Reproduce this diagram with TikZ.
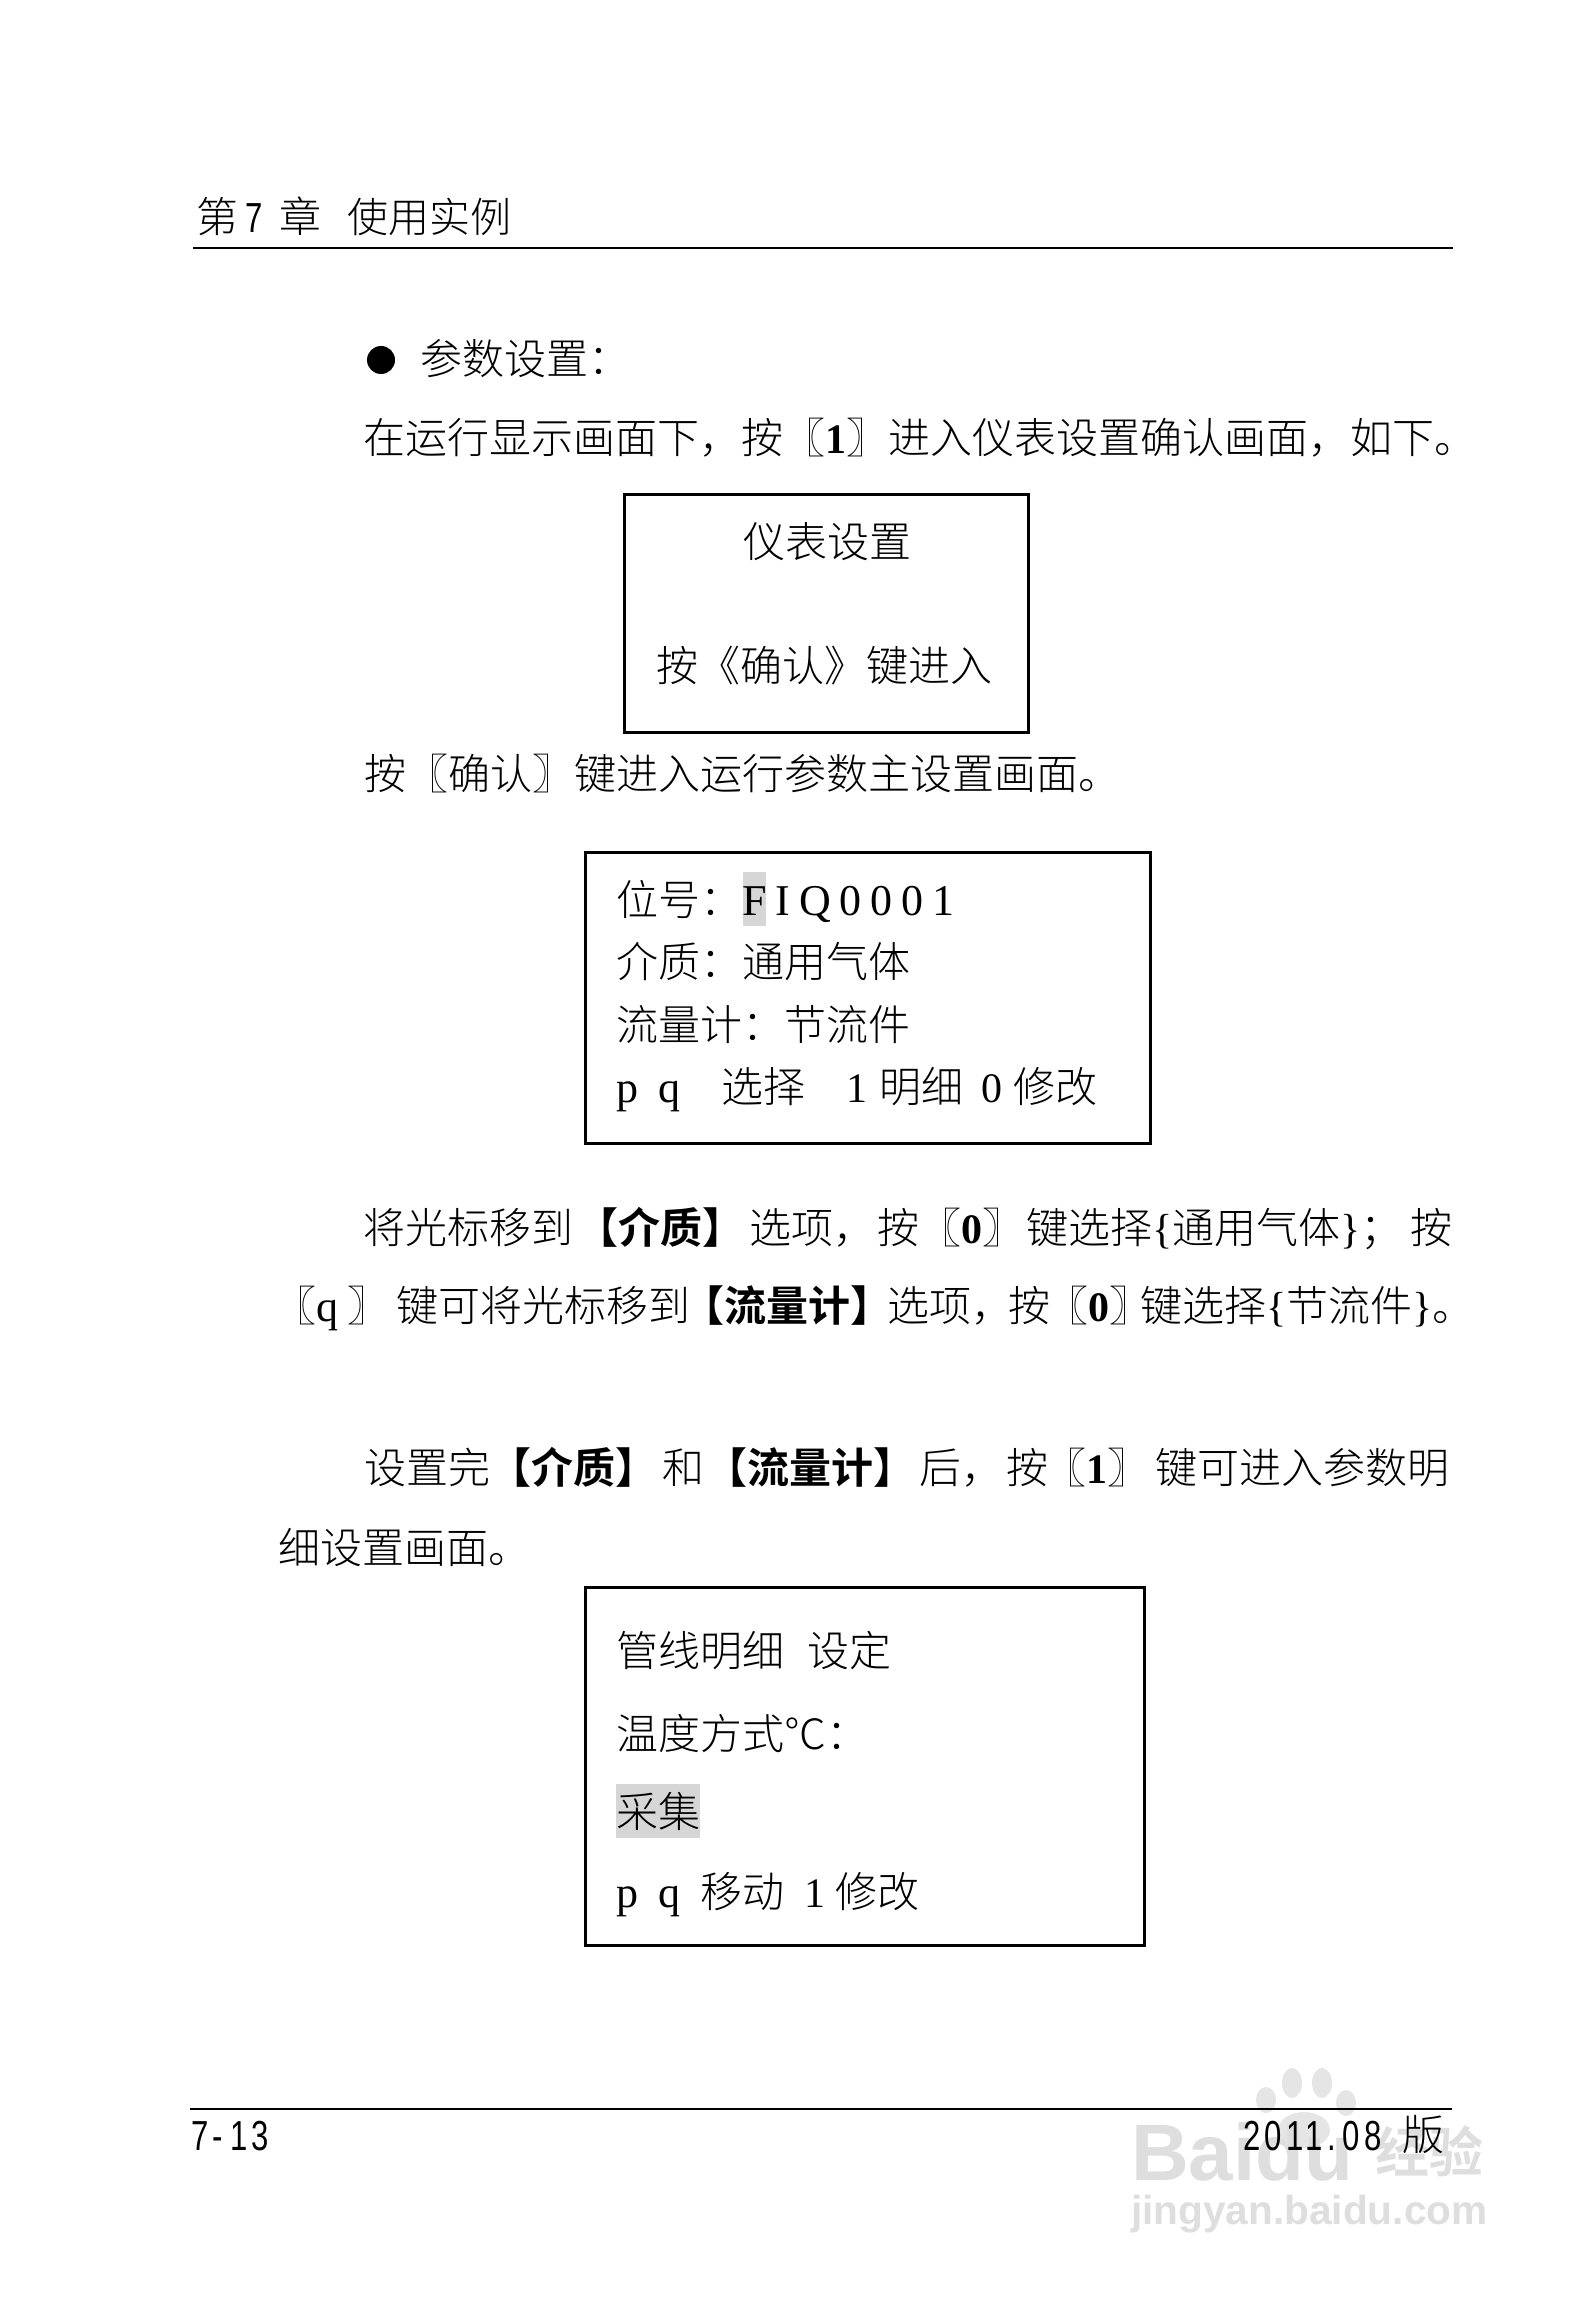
\documentclass[tikz,border=0pt]{standalone}
\usepackage{fontspec}
\setmainfont{Noto Sans CJK SC Light}
\newfontfamily\cjkb{Noto Sans CJK SC Bold}
\newfontfamily\lat{Liberation Serif}
\newfontfamily\latb{Liberation Serif Bold}
\newfontfamily\latsp[LetterSpace=20]{Liberation Serif}
\newfontfamily\foot[FakeStretch=0.74,LetterSpace=10]{Liberation Sans}
\newfontfamily\wm{Liberation Sans Bold}
\newcommand\KK[1]{〖{\latb #1}〗}
\newcommand\BB[1]{{\cjkb 【#1】}}
\newcommand\tx[5][]{\node[txt,#1] (#2) at (#3-1.5,#4+16) {#5};}
\tikzset{
  txt/.style={anchor=base west,inner sep=0pt,outer sep=0pt,font=\fontsize{21}{25}\selectfont},
  screen/.style={draw=black,line width=1.5pt,inner sep=0pt,outer sep=0pt,fill=white},
  cursor/.style={fill=black!16,draw=none,inner sep=0pt,outer sep=0pt},
  mark wm/.style={text=black!13,inner sep=0pt,outer sep=0pt},
  paw/.style={fill=black!10,draw=none,ellipse,inner sep=0pt}
}
\usetikzlibrary{shapes.geometric}
\begin{document}
\begin{tikzpicture}[x=0.5pt,y=-0.5pt]
\useasboundingbox (0,0) rectangle (1588,2300);
\fill[white] (0,0) rectangle (1588,2300);
% watermark
\node[paw,minimum width=10pt,minimum height=13pt] (pawa) at (1266,2100) {};
\node[paw,minimum width=10pt,minimum height=15pt] (pawb) at (1292,2083) {};
\node[paw,minimum width=10pt,minimum height=15pt] (pawc) at (1322,2083) {};
\node[paw,minimum width=10pt,minimum height=13pt] (pawd) at (1346,2103) {};
\node[paw,minimum width=26pt,minimum height=18pt] (pawe) at (1304,2130) {};
\node[mark wm,anchor=base west,font=\wm\fontsize{40}{44}\selectfont] (wmbai) at (1131,2180) {Baidu};
\node[mark wm,anchor=base west,font=\cjkb\fontsize{27}{32}\selectfont] (wmjin) at (1375,2172) {经验};
\node[mark wm,anchor=base west,font=\wm\fontsize{20.3}{24}\selectfont] (wmurl) at (1131,2224) {jingyan.baidu.com};
% header
\tx{h1a}{198}{217}{第}
\tx{h1b}{247}{217}{{\foot 7}}
\tx{h1c}{281}{217}{章}
\tx[font=\fontsize{20.5}{25}\selectfont]{h2}{349}{217}{使用实例}
\coordinate (hl) at (193,248); \coordinate (hr) at (1453,248);
\draw[line width=1.2pt] (hl) -- (hr);
% bullet
\node[circle,fill=black,minimum size=14pt,inner sep=0pt] (bul) at (381,360) {};
\tx{p1}{422}{359}{参数设置：}
\tx{p2}{365}{438}{在运行显示画面下，按\KK{1}进入仪表设置确认画面，如下。}
% box 1
\node[screen,minimum width=202pt,minimum height=118.5pt] (b1) at (826,613.5) {};
\tx{b1a}{745}{541}{仪表设置}
\tx{b1b}{658}{665}{按《确认》键进入}
\tx{p3}{366}{773}{按〖确认〗键进入运行参数主设置画面。}
% box 2
\node[screen,minimum width=282.5pt,minimum height=145.5pt] (b2) at (868,997.5) {};
\node[cursor,minimum width=11.5pt,minimum height=27pt] (c1) at (754.5,899) {};
\tx{b2a}{618}{899}{位号：}
\tx{b2f}{744}{899}{\latsp\fontsize{22}{25}\selectfont FIQ0001}
\tx{b2b}{618}{961}{介质：通用气体}
\tx{b2c}{618}{1024}{流量计：节流件}
\tx{b2d}{618}{1086}{{\lat\fontsize{22}{25}\selectfont p}}
\tx{b2e}{660}{1086}{{\lat\fontsize{22}{25}\selectfont q}}
\tx{b2g}{723}{1086}{选择}
\tx{b2h}{848}{1086}{{\lat 1}}
\tx{b2i}{881}{1086}{明细}
\tx{b2j}{983}{1086}{{\lat 0}}
\tx{b2k}{1015}{1086}{修改}
% paragraph 2
\tx{q1}{365}{1227}{将光标移到}
\tx{q2}{578}{1227}{\BB{介质}}
\tx{q3}{751}{1227}{选项，}
\tx{q4}{879}{1227}{按\KK{0}}
\tx{q5}{1028}{1227}{键选择{\lat\{}通用气体{\lat\}}；}
\tx{q6}{1412}{1227}{按}
\tx{r1}{276}{1305}{〖{\lat\fontsize{22}{25}\selectfont q} 〗}
\tx{r2}{398}{1305}{键可将光标移到}
\tx{r3}{684}{1305}{\BB{流量计}}
\tx{r4}{889}{1305}{选项，}
\tx{r5}{1010}{1305}{按\kern-2pt〖{\latb 0}〗}
\tx{r6}{1142}{1305}{键选择{\lat\{}节流件{\lat\}}。}
\tx{s1}{366}{1467}{设置完}
\tx{s2}{491}{1467}{\BB{介质}}
\tx{s3}{664}{1467}{和}
\tx{s4}{707}{1467}{\BB{流量计}}
\tx{s5}{921}{1467}{后，}
\tx{s6}{1008}{1467}{按\kern-2pt〖{\latb 1}〗}
\tx{s7}{1157}{1467}{键可进入参数明}
\tx{t1}{280}{1547}{细设置画面。}
% box 3
\node[screen,minimum width=279.5pt,minimum height=179pt] (b3) at (864.5,1766) {};
\node[cursor,minimum width=42pt,minimum height=27pt] (c2) at (658,1811) {};
\tx{b3a}{618}{1650}{管线明细}
\tx{b3b}{809}{1650}{设定}
\tx{b3c}{618}{1733}{温度方式℃：}
\tx{b3d}{618}{1811}{采集}
\tx{b3e}{618}{1891}{{\lat\fontsize{22}{25}\selectfont p}}
\tx{b3f}{660}{1891}{{\lat\fontsize{22}{25}\selectfont q}}
\tx{b3g}{702}{1891}{移动}
\tx{b3h}{806}{1891}{{\lat 1}}
\tx{b3i}{837}{1891}{修改}
% footer
\coordinate (fl) at (190,2109); \coordinate (fr) at (1452,2109);
\draw[line width=0.9pt] (fl) -- (fr);
\tx{f1}{193}{2134}{\foot\fontsize{21}{25}\selectfont 7-\,13}
\tx{f2}{1245}{2134}{\foot\fontsize{21}{25}\selectfont 2011.\,08}
\tx{f3}{1404}{2134}{版}
\end{tikzpicture}
\end{document}
